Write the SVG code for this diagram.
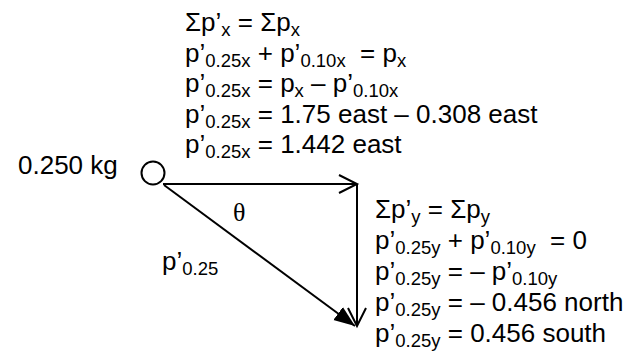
<svg xmlns="http://www.w3.org/2000/svg" width="635" height="353" viewBox="0 0 635 353">
<style>
.t{font-family:"Liberation Sans",Arial,sans-serif;font-size:26px;fill:#000;white-space:pre}
.s{font-size:18.5px}
.th{font-family:"Liberation Serif","Times New Roman",serif;font-size:26px;fill:#000}
.ln{stroke:#000;stroke-width:2;fill:none}
</style>
<defs>
<marker id="open" markerUnits="userSpaceOnUse" markerWidth="22" markerHeight="22" refX="19" refY="10" orient="auto" viewBox="0 0 22 20">
<path d="M1,1 L19,10 L1,19" fill="none" stroke="#000" stroke-width="2"/>
</marker>
<marker id="fill" markerUnits="userSpaceOnUse" markerWidth="22" markerHeight="18" refX="21" refY="8" orient="auto" viewBox="0 0 22 16">
<path d="M0,0 L21,8 L0,16 z" fill="#000"/>
</marker>
</defs>
<g id="connectors">
<line class="ln" x1="163" y1="184" x2="357" y2="184" marker-end="url(#open)"/>
<line class="ln" x1="357" y1="184" x2="357" y2="326" marker-end="url(#open)"/>
<line class="ln" x1="164" y1="185" x2="355" y2="326" marker-end="url(#fill)"/>
</g>
<g id="mass">
<circle cx="153" cy="173" r="11.5" fill="#fff" stroke="#000" stroke-width="2"/>
<text class="t" x="18" y="174">0.250 kg</text>
</g>
<g id="theta"><text class="th" x="233" y="221">θ</text></g>
<g id="p025label"><text class="t" x="162" y="270">p’<tspan class="s" dy="5">0.25</tspan></text></g>
<g id="xeqs">
<text class="t" x="185" y="31">Σp’<tspan class="s" dy="5">x</tspan><tspan dy="-5"> = Σp</tspan><tspan class="s" dy="5">x</tspan></text>
<text class="t" x="185" y="61.5">p’<tspan class="s" dy="5">0.25x</tspan><tspan dy="-5"> + p’</tspan><tspan class="s" dy="5">0.10x</tspan><tspan dy="-5">  = p</tspan><tspan class="s" dy="5">x</tspan></text>
<text class="t" x="185" y="92">p’<tspan class="s" dy="5">0.25x</tspan><tspan dy="-5"> = p</tspan><tspan class="s" dy="5">x</tspan><tspan dy="-5"> – p’</tspan><tspan class="s" dy="5">0.10x</tspan></text>
<text class="t" x="185" y="122.5">p’<tspan class="s" dy="5">0.25x</tspan><tspan dy="-5"> = 1.75 east – 0.308 east</tspan></text>
<text class="t" x="185" y="153">p’<tspan class="s" dy="5">0.25x</tspan><tspan dy="-5"> = 1.442 east</tspan></text>
</g>
<g id="yeqs">
<text class="t" x="375" y="218">Σp’<tspan class="s" dy="5">y</tspan><tspan dy="-5"> = Σp</tspan><tspan class="s" dy="5">y</tspan></text>
<text class="t" x="375" y="249">p’<tspan class="s" dy="5">0.25y</tspan><tspan dy="-5"> + p’</tspan><tspan class="s" dy="5">0.10y</tspan><tspan dy="-5">  = 0</tspan></text>
<text class="t" x="375" y="280">p’<tspan class="s" dy="5">0.25y</tspan><tspan dy="-5"> = – p’</tspan><tspan class="s" dy="5">0.10y</tspan></text>
<text class="t" x="375" y="311">p’<tspan class="s" dy="5">0.25y</tspan><tspan dy="-5"> = – 0.456 north</tspan></text>
<text class="t" x="375" y="342">p’<tspan class="s" dy="5">0.25y</tspan><tspan dy="-5"> = 0.456 south</tspan></text>
</g>
</svg>
